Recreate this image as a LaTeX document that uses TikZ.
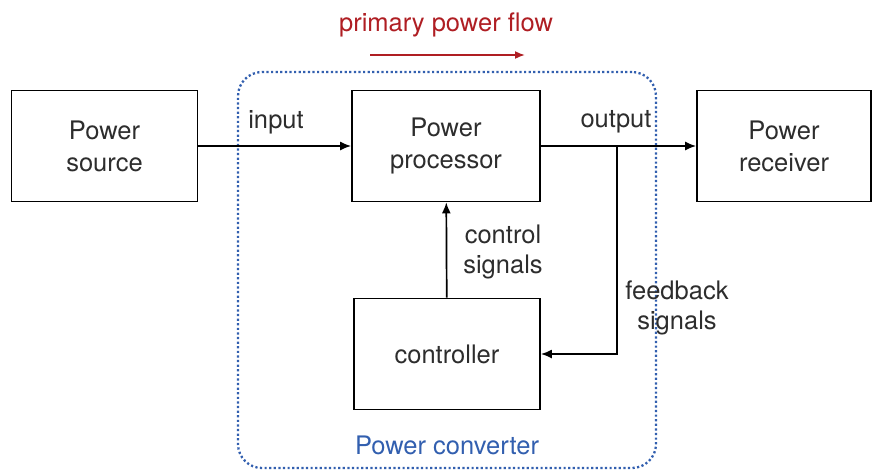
\documentclass[tikz,border=0pt]{standalone}
\usepackage{fontspec}
\setmainfont{TeX Gyre Heros}
\usetikzlibrary{positioning, arrows.meta, calc}

\definecolor{flowred}{RGB}{175,30,35}
\definecolor{convblue}{RGB}{50,95,175}
\definecolor{txtgray}{RGB}{45,45,45}

\tikzset{
	block/.style={draw, line width=1.7pt, minimum height=111pt, text=txtgray, align=center, font=\fontsize{25.5}{32}\selectfont},
	lbl/.style={text=txtgray, align=center, font=\fontsize{25.5}{30}\selectfont},
	sig/.style={line width=1.7pt, -{Latex[length=11pt, width=9pt]}}
}

\begin{document}
\begin{tikzpicture}[x=1pt, y=-1pt]
	\useasboundingbox (0,0) rectangle (874,472);
	% converter frame
	\node[draw=convblue, line width=2.3pt, dash pattern=on 2.2pt off 2.4pt, rounded corners=24pt,
		minimum width=418pt, minimum height=396pt] (conv) at (447,270) {};
	\node[text=convblue, font=\fontsize{25.5}{30}\selectfont] (convlab) at (447,445) {Power converter};
	% blocks
	\node[block, minimum width=186pt] (src) at (104.5,146) {Power\\source};
	\node[block, minimum width=188pt] (proc) at (446,146) {Power\\processor};
	\node[block, minimum width=174pt] (recv) at (784,146) {Power\\receiver};
	\node[block, minimum width=186pt] (ctrl) at (447,354) {controller};
	% power path
	\draw[sig] (src) -- (proc);
	\draw[sig] (proc) -- (recv);
	\coordinate (tap) at (617,146);
	\draw[sig] (tap) |- (ctrl.east);
	\draw[sig] (ctrl) -- (proc);
	% labels
	\node[lbl] (inlab) at (276,122) {input};
	\node[lbl] (outlab) at (616,122) {output};
	\node[lbl] (ctrllab) at (503,252) {control\\signals};
	\node[lbl] (fblab) at (677,308) {feedback\\signals};
	% primary flow
	\node[text=flowred, font=\fontsize{25.5}{30}\selectfont] (flowlab) at (446,25) {primary power flow};
	\coordinate (flowa) at (370,55);
	\coordinate (flowb) at (525,55);
	\draw[flowred, line width=1.7pt, -{Latex[length=10pt, width=8pt]}] (flowa) -- (flowb);
\end{tikzpicture}
\end{document}
